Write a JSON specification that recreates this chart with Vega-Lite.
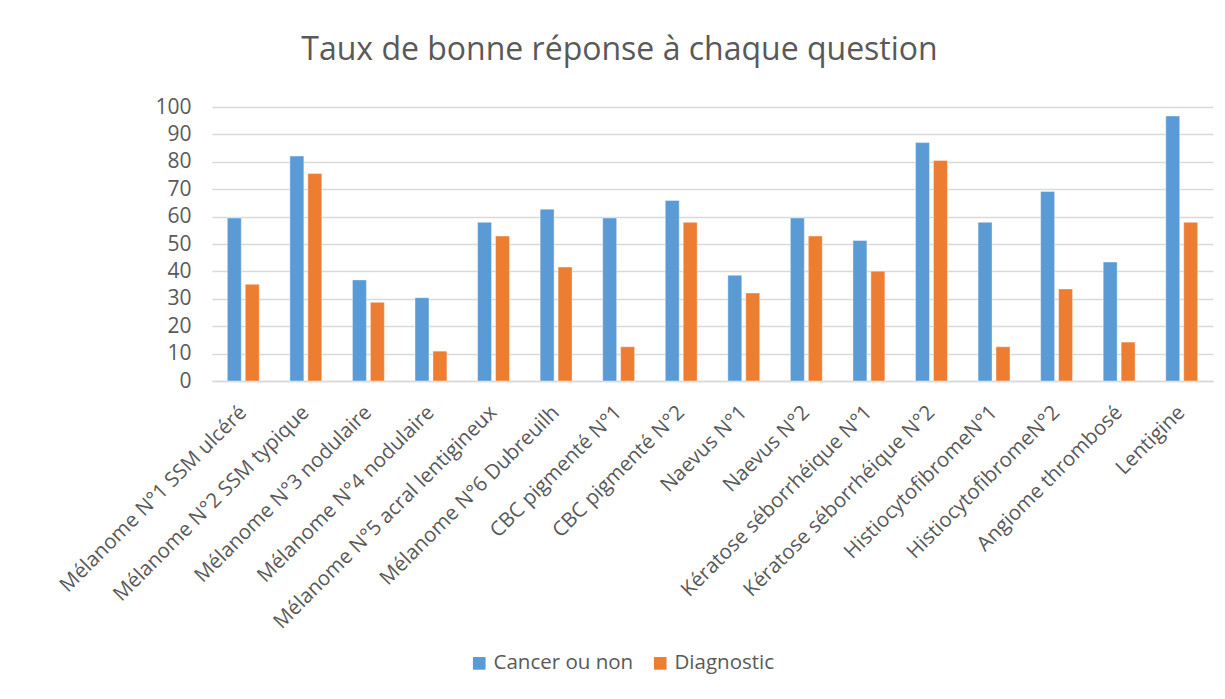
{
  "$schema": "https://vega.github.io/schema/vega-lite/v6.json",
  "width": 1001,
  "height": 274,
  "autosize": {"type": "none"},
  "padding": {"left": 212, "top": 107, "right": 12, "bottom": 318},
  "background": "white",
  "title": {
    "text": "Taux de bonne réponse à chaque question",
    "fontSize": 32,
    "font": "Open Sans",
    "fontWeight": "normal",
    "color": "#595959",
    "anchor": "middle",
    "dx": -93,
    "offset": 29
  },
  "data": {
    "values": [
      {"q": "Mélanome N°1 SSM ulcéré", "s": "Cancer ou non", "v": 59.5},
      {"q": "Mélanome N°1 SSM ulcéré", "s": "Diagnostic", "v": 35.3},
      {"q": "Mélanome N°2 SSM typique", "s": "Cancer ou non", "v": 82.1},
      {"q": "Mélanome N°2 SSM typique", "s": "Diagnostic", "v": 75.7},
      {"q": "Mélanome N°3 nodulaire", "s": "Cancer ou non", "v": 36.9},
      {"q": "Mélanome N°3 nodulaire", "s": "Diagnostic", "v": 28.7},
      {"q": "Mélanome N°4 nodulaire", "s": "Cancer ou non", "v": 30.4},
      {"q": "Mélanome N°4 nodulaire", "s": "Diagnostic", "v": 10.9},
      {"q": "Mélanome N°5 acral lentigineux", "s": "Cancer ou non", "v": 57.9},
      {"q": "Mélanome N°5 acral lentigineux", "s": "Diagnostic", "v": 52.9},
      {"q": "Mélanome N°6 Dubreuilh", "s": "Cancer ou non", "v": 62.7},
      {"q": "Mélanome N°6 Dubreuilh", "s": "Diagnostic", "v": 41.6},
      {"q": "CBC pigmenté N°1", "s": "Cancer ou non", "v": 59.5},
      {"q": "CBC pigmenté N°1", "s": "Diagnostic", "v": 12.5},
      {"q": "CBC pigmenté N°2", "s": "Cancer ou non", "v": 65.9},
      {"q": "CBC pigmenté N°2", "s": "Diagnostic", "v": 57.9},
      {"q": "Naevus N°1", "s": "Cancer ou non", "v": 38.6},
      {"q": "Naevus N°1", "s": "Diagnostic", "v": 32.1},
      {"q": "Naevus N°2", "s": "Cancer ou non", "v": 59.5},
      {"q": "Naevus N°2", "s": "Diagnostic", "v": 52.9},
      {"q": "Kératose séborrhéique N°1", "s": "Cancer ou non", "v": 51.3},
      {"q": "Kératose séborrhéique N°1", "s": "Diagnostic", "v": 40.1},
      {"q": "Kératose séborrhéique N°2", "s": "Cancer ou non", "v": 87.0},
      {"q": "Kératose séborrhéique N°2", "s": "Diagnostic", "v": 80.5},
      {"q": "HistiocytofibromeN°1", "s": "Cancer ou non", "v": 57.9},
      {"q": "HistiocytofibromeN°1", "s": "Diagnostic", "v": 12.5},
      {"q": "HistiocytofibromeN°2", "s": "Cancer ou non", "v": 69.2},
      {"q": "HistiocytofibromeN°2", "s": "Diagnostic", "v": 33.6},
      {"q": "Angiome thrombosé", "s": "Cancer ou non", "v": 43.4},
      {"q": "Angiome thrombosé", "s": "Diagnostic", "v": 14.2},
      {"q": "Lentigine", "s": "Cancer ou non", "v": 96.7},
      {"q": "Lentigine", "s": "Diagnostic", "v": 57.9}
    ]
  },
  "mark": {"type": "bar", "stroke": "white", "strokeOpacity": 0.4, "strokeWidth": 1},
  "encoding": {
    "x": {
      "field": "q",
      "type": "nominal",
      "sort": null,
      "title": null,
      "scale": {"paddingInner": 0.49, "paddingOuter": 0.245},
      "axis": {
        "labelAngle": -45,
        "labelAlign": "right",
        "labelBaseline": "middle",
        "labelFont": "Open Sans",
        "labelFontSize": 20.5,
        "labelColor": "#595959",
        "labelPadding": 28,
        "labelLimit": 400,
        "ticks": false,
        "domainColor": "#d9d9d9",
        "domainWidth": 1.5
      }
    },
    "xOffset": {
      "field": "s",
      "type": "nominal",
      "scale": {"paddingInner": 0.222}
    },
    "y": {
      "field": "v",
      "type": "quantitative",
      "title": null,
      "scale": {"domain": [0, 100], "nice": false},
      "axis": {
        "values": [0, 10, 20, 30, 40, 50, 60, 70, 80, 90, 100],
        "labelFont": "Open Sans",
        "labelFontSize": 21,
        "labelColor": "#595959",
        "labelPadding": 21,
        "ticks": false,
        "domain": false,
        "gridColor": "#d9d9d9",
        "gridWidth": 1.5
      }
    },
    "color": {
      "field": "s",
      "type": "nominal",
      "title": null,
      "scale": {"domain": ["Cancer ou non", "Diagnostic"], "range": ["#5b9bd5", "#ed7d31"]},
      "legend": {
        "orient": "none",
        "direction": "horizontal",
        "legendX": 257,
        "legendY": 546,
        "symbolType": "square",
        "symbolSize": 160,
        "symbolStrokeWidth": 0,
        "labelFont": "Open Sans",
        "labelFontSize": 20.5,
        "labelColor": "#595959",
        "columnPadding": 16
      }
    }
  },
  "config": {"view": {"stroke": null}}
}
